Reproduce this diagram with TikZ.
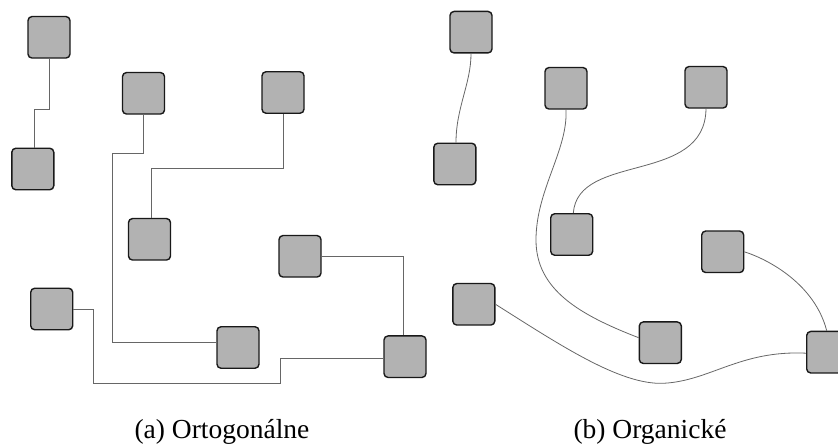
\documentclass[tikz,border=0pt]{standalone}
\usepackage{fontspec}
\setmainfont{Liberation Serif}
\begin{document}
\begin{tikzpicture}[x=1pt,y=-1pt,
  vbox/.style={draw=black!90,line width=1.4pt,fill=black!30,rounded corners=4pt,
    minimum width=42pt,minimum height=41.5pt,inner sep=0pt},
  link/.style={draw=black!60,line width=0.8pt},
  caption/.style={font=\fontsize{27.5}{32}\selectfont,anchor=base,inner sep=0pt}]
\useasboundingbox (0,0) rectangle (838,446);
\clip (0,0) rectangle (838,446);

% orthogonal layout
\node[vbox] (A1) at (49,37.3) {};
\node[vbox] (A2) at (32.8,169) {};
\node[vbox] (A3) at (143.5,93.3) {};
\node[vbox] (A4) at (283,92.5) {};
\node[vbox] (A5) at (149.5,239.3) {};
\node[vbox] (A6) at (300,256.3) {};
\node[vbox] (A7) at (51.7,309) {};
\node[vbox] (A8) at (238,347.5) {};
\node[vbox] (A9) at (405,356.7) {};

\draw[link] (A1.south) -- ++(0,51) -| ([xshift=1.5pt]A2.north);
\draw[link] (A3.south) -- ++(0,38.5) -- ++(-31.2,0) |- ([yshift=5pt]A8.west);
\draw[link] (A4.south) -- ++(0,54) -| ([xshift=1.5pt]A5.north);
\draw[link] (A6.east) -| ([xshift=-1.7pt]A9.north);
\draw[link] (A7.east) -- ++(20.3,0) |- (280.7,383.3) |- ([yshift=-1.3pt]A9.west);

% organic layout
\node[vbox] (B1) at (471,32.2) {};
\node[vbox] (B2) at (454.8,164) {};
\node[vbox] (B3) at (566,88.3) {};
\node[vbox] (B4) at (706,87.3) {};
\node[vbox] (B5) at (571.7,234.5) {};
\node[vbox] (B6) at (722.7,251.8) {};
\node[vbox] (B7) at (473.8,304.3) {};
\node[vbox] (B8) at (660.3,342.7) {};
\node[vbox] (B9) at (827.7,352.2) {};

\draw[link] (B1.south) .. controls +(0,30) and +(0,-35) .. ([xshift=1.2pt]B2.north);
\draw[link] (B3.south) .. controls (568,150) and (536,190) .. (536,240)
  .. controls (536,290) and (580,315) .. ([yshift=5pt]B8.west);
\draw[link] (B4.south) .. controls (705,185) and (578,152) .. ([xshift=1.6pt]B5.north);
\draw[link] (B6.east) .. controls (770,260) and (815,285) .. ([xshift=-1pt]B9.north);
\draw[link] (B7.east) .. controls (560,345) and (620,385) .. (663.3,383.3)
  .. controls (710,381) and (740,350) .. ([yshift=-1pt]B9.west);

% captions
\node[caption] (capA) at (222,438) {(a) Ortogonálne};
\node[caption] (capB) at (650,438) {(b) Organické};
\end{tikzpicture}
\end{document}
